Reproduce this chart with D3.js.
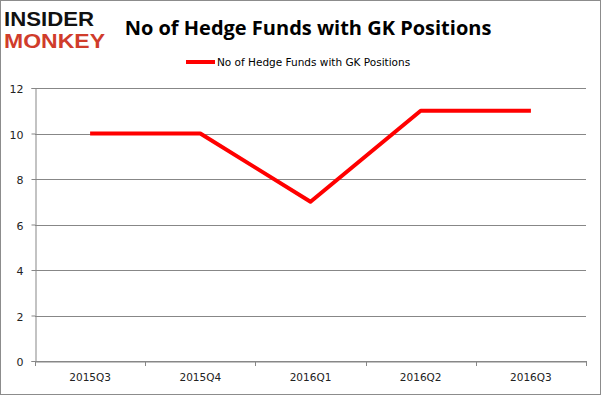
<!DOCTYPE html>
<html><head><meta charset="utf-8">
<script src="https://cdn.jsdelivr.net/npm/d3@7"></script>
<style>body{margin:0;background:#fff}svg{display:block}</style>
</head><body>
<script>
const categories = ["2015Q3","2015Q4","2016Q1","2016Q2","2016Q3"];
const values = [10, 10, 7, 11, 11];
const yTicks = [0, 2, 4, 6, 8, 10, 12];
const seriesName = "No of Hedge Funds with GK Positions";
const titleText = "No of Hedge Funds with GK Positions";

const W = 601, H = 395;
const svg = d3.select("body").append("svg").attr("width", W).attr("height", H);
svg.append("rect").attr("x",0.5).attr("y",0.5).attr("width",W-1).attr("height",H-1)
  .attr("fill","#fff").attr("stroke","#8c8c8c");

const x = d3.scaleBand().domain(categories).range([35, 586]);
const y = d3.scaleLinear().domain([0, 12]).range([361, 88]);

// gridlines
svg.append("g").selectAll("line").data(yTicks).join("line")
  .attr("x1", 35).attr("x2", 586)
  .attr("y1", d => Math.round(y(d)) + 0.5).attr("y2", d => Math.round(y(d)) + 0.5)
  .attr("stroke", "#878787").attr("stroke-width", 1);

// y axis
const yAxis = svg.append("g").attr("transform", "translate(35.5,0)")
  .call(d3.axisLeft(y).tickValues(yTicks).tickSize(4).tickPadding(8));
yAxis.select(".domain").attr("stroke", "#878787");
yAxis.selectAll(".tick line").attr("stroke", "#878787");
yAxis.selectAll(".tick text").attr("font-family","'DejaVu Sans', sans-serif").attr("font-size", 11).attr("fill","#222")
  .attr("transform", d => `translate(0,${Math.round(y(d)) + 0.5 - y(d)})`);

// x axis
const xAxis = svg.append("g").attr("transform", "translate(0,361.5)")
  .call(d3.axisBottom(x).tickSize(0).tickPadding(12));
xAxis.select(".domain").attr("stroke", "#878787");
xAxis.selectAll(".tick text").attr("font-family","'DejaVu Sans', sans-serif").attr("font-size", 10.5).attr("fill","#222");
const bounds = categories.map(c => x(c)).concat([x.range()[1]]);
svg.append("g").selectAll("line").data(bounds).join("line")
  .attr("x1", d => Math.round(d) + 0.5).attr("x2", d => Math.round(d) + 0.5)
  .attr("y1", 361).attr("y2", 366).attr("stroke", "#878787");

// line
const line = d3.line().x((d, i) => x(categories[i]) + x.bandwidth() / 2).y(d => y(d));
svg.append("path").datum(values).attr("d", line)
  .attr("fill", "none").attr("stroke", "#ff0000").attr("stroke-width", 4)
  .attr("stroke-linejoin", "round");

// title
svg.append("text").attr("x", 308).attr("y", 35).attr("text-anchor", "middle")
  .attr("font-family", "'Open Sans', sans-serif").attr("font-weight", "bold")
  .attr("font-size", 20).attr("fill", "#000").text(titleText);

// legend
svg.append("line").attr("x1", 186).attr("x2", 215).attr("y1", 62).attr("y2", 62)
  .attr("stroke", "#ff0000").attr("stroke-width", 4);
svg.append("text").attr("x", 217).attr("y", 66)
  .attr("font-family", "'DejaVu Sans', sans-serif").attr("font-size", 10.5).attr("fill", "#000")
  .text(seriesName);

// logo
svg.append("text").attr("x", 4).attr("y", 26)
  .attr("font-family", "'Liberation Sans', sans-serif").attr("font-weight", "bold")
  .attr("font-size", 20.5).attr("fill", "#111").attr("textLength", 90).attr("lengthAdjust","spacingAndGlyphs").text("INSIDER");
svg.append("text").attr("x", 4).attr("y", 48)
  .attr("font-family", "'Liberation Sans', sans-serif").attr("font-weight", "bold")
  .attr("font-size", 20.5).attr("fill", "#d03c2b").attr("textLength", 101).attr("lengthAdjust","spacingAndGlyphs").text("MONKEY");
</script>
</body></html>
